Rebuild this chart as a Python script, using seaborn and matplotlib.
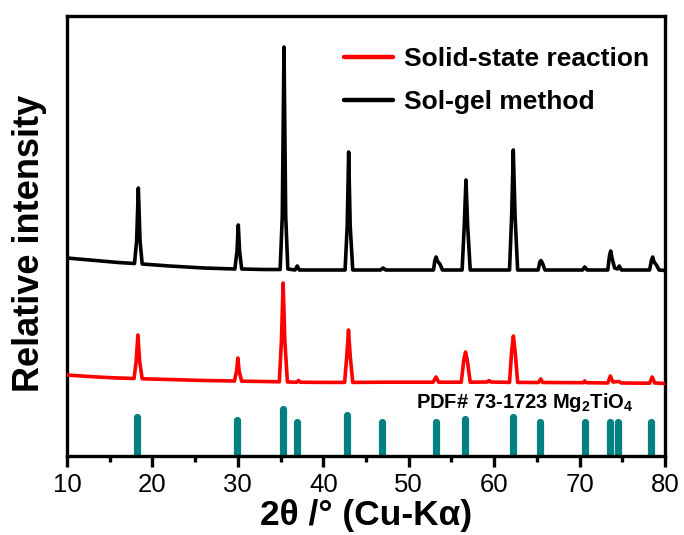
import numpy as np
import pandas as pd
import matplotlib
matplotlib.use("Agg")
import matplotlib.pyplot as plt
import seaborn as sns
from matplotlib.ticker import MultipleLocator

# ---- data (arbitrary intensity units) ----
sol_gel_2theta = [10, 12, 14, 16, 17.9, 18.15, 18.35, 18.55, 18.8, 22, 26, 29.65, 29.9, 30.05, 30.2, 30.45,
                  33, 34.95, 35.2, 35.4, 35.6, 35.85, 36.7, 36.95, 37.2, 40, 42.55, 42.8, 42.97, 43.15, 43.45,
                  46.7, 47.0, 47.3, 52.9, 53.05, 53.2, 53.35, 53.65, 53.95, 56.25, 56.5, 56.7, 56.9, 57.2,
                  61.8, 62.05, 62.24, 62.45, 62.75, 65.15, 65.35, 65.48, 65.65, 65.95, 70.35, 70.6, 70.9,
                  73.3, 73.5, 73.64, 73.8, 74.1, 74.45, 74.65, 74.9, 78.2, 78.42, 78.56, 78.72, 79.0, 79.3, 80]
sol_gel_int = [198, 196.5, 195, 193.5, 192.5, 215, 268, 215, 192, 190, 188, 187, 205, 231, 205, 187,
               186.5, 186.5, 240, 409, 240, 187, 186, 190, 186, 186, 186, 230, 304, 230, 186,
               186, 188, 186, 186, 195, 199, 195, 192, 186, 186, 230, 276, 230, 186,
               186, 240, 306, 240, 186, 186, 194, 195.5, 193, 186, 186, 189, 186,
               186, 200, 205, 198, 188, 187, 190, 186, 186, 196, 199, 194, 191, 186, 185.5]

solid_state_2theta = [10, 12, 14, 16, 17.85, 18.1, 18.3, 18.5, 18.8, 22, 26, 29.6, 29.85, 30.0, 30.15, 30.45,
                      33, 34.85, 35.1, 35.3, 35.5, 35.8, 36.9, 37.1, 37.3, 40, 42.5, 42.75, 42.95, 43.15, 43.45,
                      47, 52.85, 53.2, 53.5, 56.15, 56.45, 56.65, 56.85, 57.2, 59.2, 59.4, 59.6,
                      61.8, 62.05, 62.25, 62.45, 62.75, 65.2, 65.45, 65.7, 70.4, 70.6, 70.8,
                      73.3, 73.6, 73.9, 74.6, 74.9, 78.2, 78.5, 78.8, 80]
solid_state_int = [81, 79.8, 78.8, 78, 77.5, 95, 121, 95, 77.2, 76.5, 75.5, 75, 85, 98, 85, 74.8,
                   74.5, 74.2, 115, 173, 115, 74, 73.8, 75.5, 73.8, 73.6, 73.6, 100, 126, 100, 73.6,
                   73.8, 73.8, 79, 73.8, 73.8, 96, 104, 96, 73.8, 74, 75.5, 74,
                   73.6, 105, 120, 105, 73.6, 73.5, 77, 73.5, 73.3, 75, 73.3,
                   73, 80, 74, 74.5, 73, 72.8, 79, 73, 72.5]

pdf_2theta = [18.2, 29.9, 35.3, 36.9, 42.8, 46.9, 53.2, 56.6, 62.2, 65.4, 70.6, 73.6, 74.5, 78.4]
pdf_int = [39, 36, 47, 34.5, 41, 34, 34, 37.5, 39.5, 34, 34, 34, 34, 34]

series_names = ["Solid-state reaction", "Sol-gel method"]
series_colors = ["#ff0000", "#000000"]
x_ticks = [10, 20, 30, 40, 50, 60, 70, 80]

df = pd.concat([
    pd.DataFrame({"two_theta": solid_state_2theta, "intensity": solid_state_int, "sample": series_names[0]}),
    pd.DataFrame({"two_theta": sol_gel_2theta, "intensity": sol_gel_int, "sample": series_names[1]}),
], ignore_index=True)

# ---- style ----
sns.set_style("ticks")
plt.rcParams["font.family"] = ["Liberation Sans", "DejaVu Sans"]
plt.rcParams["mathtext.default"] = "regular"
plt.rcParams["text.color"] = "black"
plt.rcParams["axes.labelcolor"] = "black"
plt.rcParams["xtick.color"] = "black"
plt.rcParams["ytick.color"] = "black"

fig = plt.figure(figsize=(6.84, 5.35), dpi=100)
ax = fig.add_axes([67 / 684, 1 - 456 / 535, (665 - 67) / 684, 440 / 535])

ax.vlines(pdf_2theta, 0, pdf_int, colors="#008080", linewidth=5.2, capstyle="round", zorder=2)

sns.lineplot(data=df, x="two_theta", y="intensity", hue="sample", hue_order=series_names,
             palette=series_colors, estimator=None, sort=False, linewidth=2.6, ax=ax, zorder=3)
for ln in ax.get_lines():
    ln.set_solid_joinstyle("round")
    ln.set_solid_capstyle("round")

ax.set_xlim(10, 80)
ax.set_ylim(0, 440)
ax.set_xticks(x_ticks)
ax.xaxis.set_minor_locator(MultipleLocator(5))
ax.set_yticks([])
ax.tick_params(axis="x", which="major", direction="out", length=8, width=2.4, labelsize=18.5, pad=4,
               colors="black")
ax.tick_params(axis="x", which="minor", direction="out", length=4, width=2.4, colors="black")
for sp in ax.spines.values():
    sp.set_visible(True)
    sp.set_linewidth(2.4)
    sp.set_color("black")

ax.set_xlabel("2θ /° (Cu-Kα)", fontsize=25.5, fontweight="bold", labelpad=2, color="black")
ax.set_ylabel("Relative intensity", fontsize=26, fontweight="bold", color="black")
ax.yaxis.set_label_coords(-0.033, 0.484)

ax.text(50.9, 53, r"PDF# 73-1723 Mg$_{\mathregular{2}}$TiO$_{\mathregular{4}}$", fontsize=14.5,
        fontweight="bold", ha="left", va="center", color="black")

leg = ax.legend(loc="upper left", bbox_to_anchor=(0.463, 0.93), frameon=False,
                handlelength=1.85, handletextpad=0.42, labelspacing=0.72,
                borderpad=0, borderaxespad=0, prop={"weight": "bold", "size": 19})
for t in leg.get_texts():
    t.set_color("black")
for h in leg.get_lines():
    h.set_linewidth(3.2)

fig.savefig("out.png", dpi=100)
